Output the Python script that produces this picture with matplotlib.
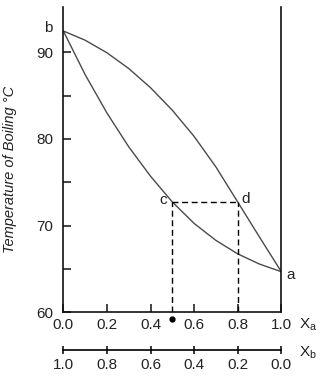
import numpy as np
import matplotlib.pyplot as plt

plt.rcParams['font.family'] = ['Liberation Sans', 'DejaVu Sans']
plt.rcParams['mathtext.fontset'] = 'custom'
plt.rcParams['mathtext.rm'] = 'Liberation Sans'

# dati
xa_pts = [0.0, 0.1, 0.2, 0.3, 0.4, 0.5, 0.6, 0.7, 0.8, 0.9, 1.0]
# curva del vapore (superiore)
t_vap = [92.49, 91.42, 89.97, 88.15, 85.93, 83.33, 80.30, 76.77, 72.72, 68.66, 64.66]
# curva del liquido (inferiore)
t_liq = [92.49, 87.45, 83.01, 79.10, 75.70, 72.72, 70.24, 68.28, 66.72, 65.54, 64.66]

# punti c, d
x_c, x_d, t_cd = 0.5, 0.8, 72.72
t_b, t_a = 92.49, 64.66

xa_ticks = [0.0, 0.2, 0.4, 0.6, 0.8, 1.0]
xa_labels = ['0.0', '0.2', '0.4', '0.6', '0.8', '1.0']
xb_labels = ['1.0', '0.8', '0.6', '0.4', '0.2', '0.0']
y_ticks = [60, 70, 80, 90]
y_minor = [65, 75, 85]

txt = '#222222'
curve = '#4a4a4a'

fig = plt.figure(figsize=(3.32, 3.76), dpi=100)
ax = fig.add_axes([0.1907, 0.1702, 0.6566, 0.8112])

ax.plot(xa_pts, t_vap, color=curve, lw=1.0)
ax.plot(xa_pts, t_liq, color=curve, lw=1.0)

# tratteggi
dash = dict(color='black', lw=1.0, dashes=(4.3, 2.6))
ax.plot([x_c, x_d], [t_cd, t_cd], **dash)
ax.plot([x_c, x_c], [60, t_cd], **dash)
ax.plot([x_d, x_d], [60, t_cd], **dash)

ax.plot([x_c], [59.2], marker='o', ms=3.5, color='black', clip_on=False)

ax.set_xlim(0, 1)
ax.set_ylim(60, 95.26)

for s in ['left', 'bottom', 'right']:
    ax.spines[s].set_linewidth(1.2)
    ax.spines[s].set_color('#111111')
ax.spines['top'].set_visible(False)

ax.set_xticks(xa_ticks)
ax.set_xticklabels(xa_labels)
ax.set_yticks(y_ticks)
ax.set_yticks(y_minor, minor=True)
ax.tick_params(axis='both', which='both', direction='in', length=6, width=1.1,
               labelsize=11, labelcolor=txt, color='#111111')
ax.tick_params(axis='x', pad=4)
ax.tick_params(axis='y', pad=7)
ax.tick_params(axis='y', which='both', right=False)

ax.set_ylabel('Temperature of Boiling °C', fontsize=10.5, style='italic', color=txt)
ax.yaxis.label.set_va('center')
ax.yaxis.set_label_coords(-0.244, 0.466)

# seconda scala X_b
sec = ax.secondary_xaxis(-0.125, functions=(lambda x: 1 - x, lambda x: 1 - x))
sec.set_xticks([1.0, 0.8, 0.6, 0.4, 0.2, 0.0])
sec.set_xticklabels(xb_labels)
sec.spines['bottom'].set_linewidth(1.2)
sec.tick_params(direction='inout', length=6, width=1.1, labelsize=11,
                labelcolor=txt, pad=3)

# etichette
ax.text(-0.05, t_b + 0.3, 'b', fontsize=11, color=txt, ha='right', va='center', clip_on=False)
ax.text(1.025, t_a - 0.4, 'a', fontsize=11, color=txt, ha='left', va='center', clip_on=False)
ax.text(x_c - 0.025, t_cd + 0.2, 'c', fontsize=11, color=txt, ha='right', va='center')
ax.text(x_d + 0.015, t_cd + 0.4, 'd', fontsize=11, color=txt, ha='left', va='center')
ax.text(1.08, -0.043, r'$\mathregular{X_a}$', fontsize=11, color=txt, transform=ax.transAxes,
        ha='left', va='center')
ax.text(1.08, -0.135, r'$\mathregular{X_b}$', fontsize=11, color=txt, transform=ax.transAxes,
        ha='left', va='center')

fig.savefig('out.png', dpi=100)
